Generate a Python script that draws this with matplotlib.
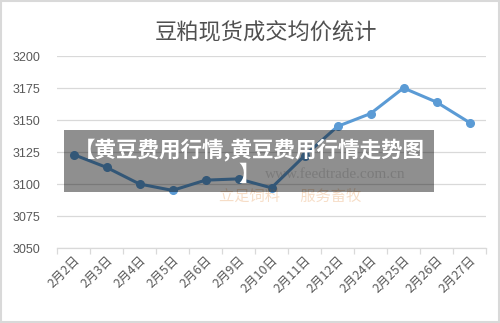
import matplotlib
matplotlib.use("Agg")
import matplotlib.pyplot as plt
from matplotlib.patches import Rectangle
import numpy as np

plt.rcParams['font.family'] = ['Liberation Sans', 'Noto Sans CJK SC', 'DejaVu Sans']

title = "豆粕现货成交均价统计"
categories = ["2月2日", "2月3日", "2月4日", "2月5日", "2月6日", "2月9日", "2月10日",
              "2月11日", "2月12日", "2月24日", "2月25日", "2月26日", "2月27日"]
prices = [3123, 3113, 3100, 3095, 3103, 3104, 3097, 3122, 3145, 3155, 3175, 3164, 3148]
yticks = [3050, 3075, 3100, 3125, 3150, 3175, 3200]
overlay_line1 = "【黄豆费用行情,黄豆费用行情走势图"
overlay_line2 = "】"

W, H = 500, 323
fig = plt.figure(figsize=(W / 100, H / 100), dpi=100)
fig.patch.set_facecolor("white")

ax = fig.add_axes([57 / W, 1 - 248 / H, (486 - 57) / W, (248 - 56) / H])
x = np.arange(len(categories))
ax.plot(x, prices, color="#5B9BD5", lw=2.2, marker="o", ms=5.5, zorder=3)

ax.set_xlim(-0.5, len(categories) - 0.5)
ax.set_ylim(yticks[0], yticks[-1])
ax.set_yticks(yticks)
ax.set_yticklabels([str(v) for v in yticks], fontsize=9, color="#595959")
ax.grid(axis="y", color="#D9D9D9", lw=0.9)
ax.set_axisbelow(True)
for s in ["top", "right", "left"]:
    ax.spines[s].set_visible(False)
ax.spines["bottom"].set_color("#D9D9D9")
ax.spines["bottom"].set_linewidth(0.9)
ax.tick_params(axis="y", length=0, pad=12)
ax.set_xticks(x)
ax.set_xticklabels(categories, rotation=45, ha="right", rotation_mode="anchor",
                   fontsize=9, color="#595959", family=['Noto Sans CJK SC', 'DejaVu Sans'])
ax.tick_params(axis="x", which="major", length=0, pad=4)
ax.set_xticks(np.arange(-0.5, len(categories), 1), minor=True)
ax.tick_params(axis="x", which="minor", length=4, color="#D9D9D9", width=0.9)

fig.text(266 / W, 1 - 33 / H, title, ha="center", va="center", fontsize=16,
         color="#505050", family=['Noto Sans CJK SC', 'DejaVu Sans'])

# faint watermark
fig.text(335 / W, 1 - 174 / H, "www.feedtrade.com.cn", ha="center", va="center",
         fontsize=11, color="#9a9a9a", alpha=0.35, family=['Liberation Serif'])
fig.text(290 / W, 1 - 196 / H, "立足饲料      服务畜牧", ha="center", va="center",
         fontsize=11, color="#E8A060", alpha=0.35, style="italic",
         family=['Noto Sans CJK SC', 'DejaVu Sans'])

# overlay band
fig.patches.append(Rectangle((64 / W, 1 - 192 / H), (434 - 64) / W, (192 - 130) / H,
                             transform=fig.transFigure, facecolor="black", alpha=0.44,
                             edgecolor="none", zorder=5))
fig.text(249 / W, 1 - 150 / H, overlay_line1, ha="center", va="center", fontsize=15.5,
         color="white", fontweight="bold", zorder=6,
         family=['Noto Sans CJK SC', 'DejaVu Sans'])
fig.text(249 / W, 1 - 174 / H, overlay_line2, ha="center", va="center", fontsize=15.5,
         color="white", fontweight="bold", zorder=6,
         family=['Noto Sans CJK SC', 'DejaVu Sans'])

# outer frame
fig.patches.append(Rectangle((0.002, 0.003), 0.996, 0.994, transform=fig.transFigure,
                             facecolor="none", edgecolor="#D9D9D9", lw=1.5, zorder=7))

fig.savefig("out.png", dpi=100)
